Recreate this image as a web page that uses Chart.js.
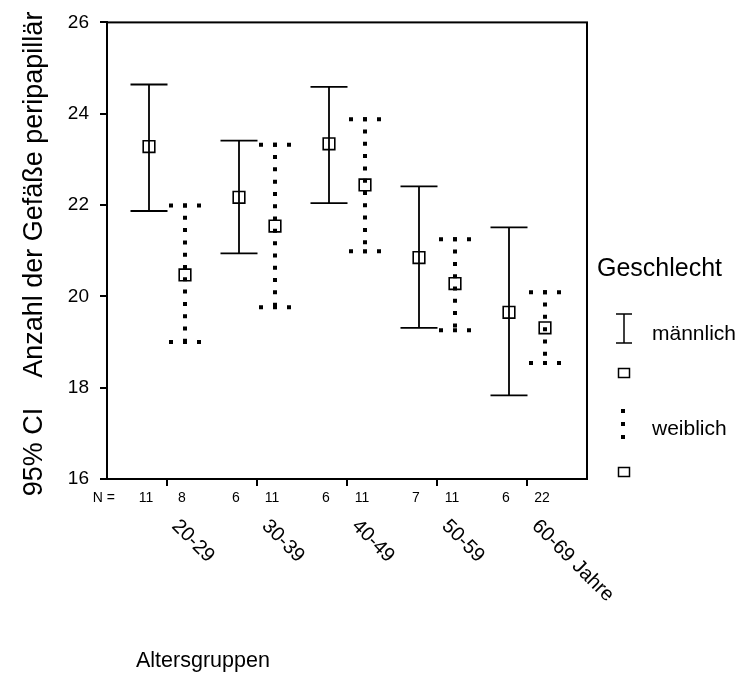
<!DOCTYPE html>
<html>
<head>
<meta charset="utf-8">
<script src="https://cdn.jsdelivr.net/npm/chart.js@4"></script>
<style>
  body { margin: 0; background: #fff; }
</style>
</head>
<body>
<canvas id="grafica" width="740" height="673"></canvas>
<script>
// Altersgruppen und Werte (95% CI)
const gruppen = ['20-29', '30-39', '40-49', '50-59', '60-69 Jahre'];
const maennlichMittel = [23.28, 22.17, 23.34, 20.85, 19.65];
const maennlichUnten  = [21.87, 20.94, 22.04, 19.31, 17.83];
const maennlichOben   = [24.64, 23.41, 24.59, 22.41, 21.51];
const weiblichMittel  = [20.47, 21.54, 22.44, 20.28, 19.31];
const weiblichUnten   = [19.00, 19.76, 20.99, 19.26, 18.54];
const weiblichOben    = [21.99, 23.32, 23.88, 21.25, 20.09];
const maennlichN = [11, 6, 6, 7, 6];
const weiblichN  = [8, 11, 11, 11, 22];
const yTicks = [16, 18, 20, 22, 24, 26];

const FONT = '"Liberation Sans", Arial, sans-serif';
const versatz = 0.2;

function punkte(werte, dx) {
  return werte.map((v, i) => ({ x: i + 1 + dx, y: v }));
}

const fehlerbalken = {
  id: 'fehlerbalken',
  beforeDatasetsDraw(chart) {
    const ctx = chart.ctx;
    const xs = chart.scales.x, ys = chart.scales.y;
    ctx.save();
    ctx.strokeStyle = '#000';
    // männlich: durchgezogen
    ctx.lineWidth = 1.8;
    ctx.setLineDash([]);
    gruppen.forEach((g, i) => {
      const x = xs.getPixelForValue(i + 1 - versatz);
      const y1 = ys.getPixelForValue(maennlichOben[i]);
      const y2 = ys.getPixelForValue(maennlichUnten[i]);
      ctx.beginPath();
      ctx.moveTo(x, y1); ctx.lineTo(x, y2);
      ctx.moveTo(x - 18.5, y1); ctx.lineTo(x + 18.5, y1);
      ctx.moveTo(x - 18.5, y2); ctx.lineTo(x + 18.5, y2);
      ctx.stroke();
    });
    // weiblich: gepunktet
    ctx.lineWidth = 4;
    gruppen.forEach((g, i) => {
      const x = xs.getPixelForValue(i + 1 + versatz);
      const y1 = ys.getPixelForValue(weiblichOben[i]);
      const y2 = ys.getPixelForValue(weiblichUnten[i]);
      ctx.setLineDash([4, 8.3]);
      ctx.beginPath();
      ctx.moveTo(x, y1 - 2); ctx.lineTo(x, y2 + 2);
      ctx.stroke();
      ctx.setLineDash([4, 10]);
      ctx.beginPath();
      ctx.moveTo(x - 16, y1); ctx.lineTo(x + 16, y1);
      ctx.moveTo(x - 16, y2); ctx.lineTo(x + 16, y2);
      ctx.stroke();
    });
    ctx.restore();
  },
  afterDraw(chart) {
    const ctx = chart.ctx;
    const a = chart.chartArea;
    const xs = chart.scales.x;
    ctx.save();
    // Rahmen
    ctx.strokeStyle = '#000';
    ctx.lineWidth = 2;
    ctx.strokeRect(a.left, a.top, a.right - a.left, a.bottom - a.top);

    // N-Zeile
    ctx.fillStyle = '#000';
    ctx.font = '14px ' + FONT;
    ctx.textBaseline = 'middle';
    ctx.textAlign = 'right';
    ctx.fillText('N =', a.left + 8, a.bottom + 19);
    ctx.textAlign = 'center';
    gruppen.forEach((g, i) => {
      ctx.fillText(String(maennlichN[i]), xs.getPixelForValue(i + 1 - versatz) - 3, a.bottom + 19);
      ctx.fillText(String(weiblichN[i]), xs.getPixelForValue(i + 1 + versatz) - 3, a.bottom + 19);
    });

    // schräge Gruppenbeschriftung
    ctx.font = '20px ' + FONT;
    ctx.textAlign = 'left';
    ctx.textBaseline = 'top';
    gruppen.forEach((g, i) => {
      ctx.save();
      ctx.translate(xs.getPixelForValue(i + 1) + 15, a.bottom + 37);
      ctx.rotate(Math.PI / 4);
      ctx.fillText(g, 0, 0);
      ctx.restore();
    });

    // Achsentitel
    ctx.font = '21.5px ' + FONT;
    ctx.textAlign = 'left';
    ctx.textBaseline = 'alphabetic';
    ctx.fillText('Altersgruppen', 136, 667);

    ctx.save();
    ctx.translate(35, 254);
    ctx.rotate(-Math.PI / 2);
    ctx.textAlign = 'center';
    ctx.textBaseline = 'middle';
    ctx.font = '27px ' + FONT;
    ctx.fillText('95% CI    Anzahl der Gefäße peripapillär', 0, 0);
    ctx.restore();

    // Legende
    const lx = a.right + 37;
    ctx.font = '25px ' + FONT;
    ctx.textAlign = 'left';
    ctx.textBaseline = 'middle';
    ctx.fillText('Geschlecht', a.right + 10, 269);
    ctx.font = '21px ' + FONT;
    ctx.fillText('männlich', a.right + 65, 334);
    ctx.fillText('weiblich', a.right + 65, 429);

    ctx.lineWidth = 1.5;
    ctx.beginPath();
    ctx.moveTo(lx, 314); ctx.lineTo(lx, 343);
    ctx.moveTo(lx - 8, 314); ctx.lineTo(lx + 8, 314);
    ctx.moveTo(lx - 8, 343); ctx.lineTo(lx + 8, 343);
    ctx.stroke();
    ctx.strokeRect(lx - 5.5, 368.5, 11, 9);
    ctx.strokeRect(lx - 5.5, 467.5, 11, 9);

    ctx.lineWidth = 4;
    ctx.setLineDash([4, 9]);
    ctx.beginPath();
    ctx.moveTo(lx - 1, 409); ctx.lineTo(lx - 1, 441);
    ctx.stroke();
    ctx.restore();
  }
};

new Chart(document.getElementById('grafica'), {
  type: 'scatter',
  data: {
    datasets: [{
      label: 'männlich',
      data: punkte(maennlichMittel, -versatz),
      pointStyle: 'rect',
      pointRadius: 8.2,
      pointBorderWidth: 1.6,
      borderColor: '#000',
      backgroundColor: 'rgba(0,0,0,0)'
    }, {
      label: 'weiblich',
      data: punkte(weiblichMittel, versatz),
      pointStyle: 'rect',
      pointRadius: 8.2,
      pointBorderWidth: 1.6,
      borderColor: '#000',
      backgroundColor: 'rgba(0,0,0,0)'
    }]
  },
  options: {
    responsive: false,
    animation: false,
    layout: { padding: { left: 0, right: 153, top: 19, bottom: 0 } },
    plugins: {
      legend: { display: false },
      tooltip: { enabled: false }
    },
    scales: {
      x: {
        type: 'linear',
        min: 1 / 3,
        max: 17 / 3,
        afterBuildTicks: (axis) => { axis.ticks = gruppen.map((g, i) => ({ value: i + 1 })); },
        afterFit: (axis) => { axis.height = 194; },
        ticks: { display: false },
        grid: { drawOnChartArea: false, drawTicks: true, tickLength: 7, color: '#000', lineWidth: 2 },
        border: { display: true, color: '#000', width: 2 }
      },
      y: {
        min: 16,
        max: 26,
        afterBuildTicks: (axis) => { axis.ticks = yTicks.map(v => ({ value: v })); },
        afterFit: (axis) => { axis.width = 107; },
        ticks: { color: '#000', font: { size: 19, family: FONT }, padding: 11 },
        grid: { drawOnChartArea: false, drawTicks: true, tickLength: 7, color: '#000', lineWidth: 2 },
        border: { display: true, color: '#000', width: 2 }
      }
    }
  },
  plugins: [fehlerbalken]
});
</script>
</body>
</html>
